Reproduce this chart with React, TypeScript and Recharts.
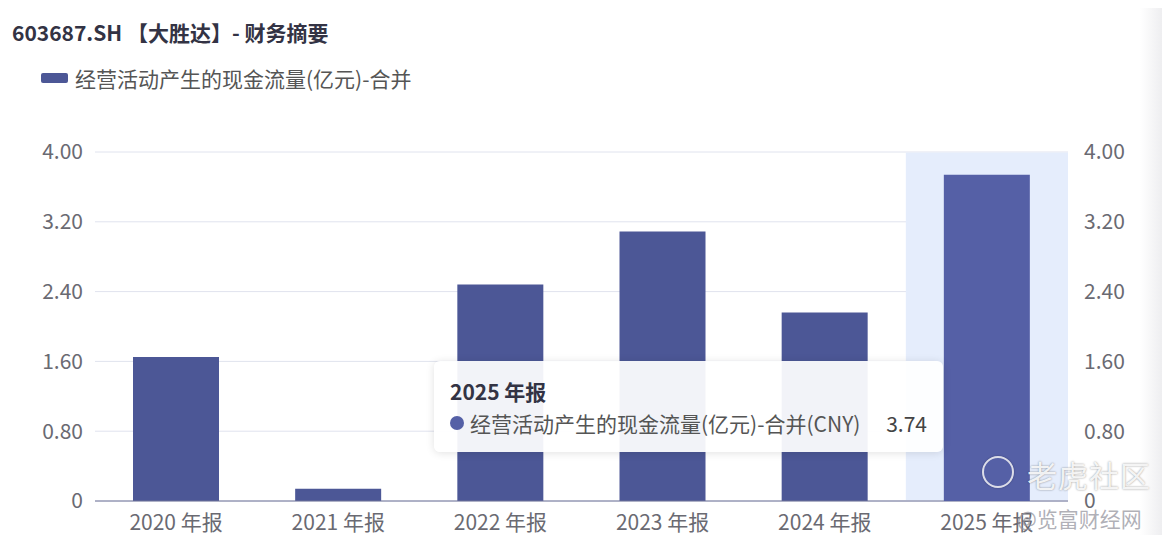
import { Bar, BarChart, CartesianGrid, Line, Tooltip, XAxis, YAxis } from "recharts";

const periods = ["2020 年报", "2021 年报", "2022 年报", "2023 年报", "2024 年报", "2025 年报"];
const cashFlow = [1.65, 0.14, 2.48, 3.09, 2.16, 3.74];
const yTicks = [0, 0.8, 1.6, 2.4, 3.2, 4.0];

const SERIES_NAME = "经营活动产生的现金流量(亿元)-合并";
const BAR_COLOR = "#4c5796";
const ACTIVE_COLOR = "#5560a6";
const FONT = '"Noto Sans CJK SC", "Noto Sans", sans-serif';
const TICK = { fontSize: 21, fill: "#6a6a72", fontFamily: FONT } as const;

const data = periods.map((period, index) => ({ period, value: cashFlow[index] }));

const formatTick = (value: number) => (value === 0 ? "0" : value.toFixed(2));

function TooltipBox({ active, payload, label }: any) {
  const entry = payload?.find((item: any) => item.dataKey === "value");
  if (!active || !entry) {
    return null;
  }
  return (
    <div
      style={{
        width: 509,
        height: 91,
        boxSizing: "border-box",
        background: "rgba(255,255,255,0.93)",
        borderRadius: 6,
        boxShadow: "0 1px 8px rgba(0,0,0,0.12)",
        padding: "14px 16px 0 16px",
        fontFamily: FONT,
        color: "#333344"
      }}
    >
      <div style={{ fontSize: 21, fontWeight: 700, lineHeight: "32px" }}>{label}</div>
      <div style={{ display: "flex", alignItems: "center", fontSize: 21, lineHeight: "32px", color: "#555" }}>
        <span
          style={{
            width: 14,
            height: 14,
            borderRadius: 7,
            background: ACTIVE_COLOR,
            display: "inline-block",
            marginRight: 6
          }}
        />
        <span>{SERIES_NAME}(CNY)</span>
        <span style={{ marginLeft: "auto", color: "#444" }}>{(entry.value as number).toFixed(2)}</span>
      </div>
    </div>
  );
}

export default function App() {
  return (
    <div style={{ position: "relative", width: 1170, height: 543, margin: -8, background: "#fff", overflow: "hidden", fontFamily: FONT }}>
      <div style={{ position: "absolute", left: 12, top: 17, fontSize: 21, fontWeight: 700, color: "#333344" }}>
        603687.SH 【大胜达】- 财务摘要
      </div>
      <div style={{ position: "absolute", left: 41, top: 63, display: "flex", alignItems: "center", fontSize: 21, color: "#555" }}>
        <span style={{ width: 27, height: 10, background: BAR_COLOR, borderRadius: 2, display: "inline-block", marginRight: 7 }} />
        {SERIES_NAME}
      </div>
      <BarChart width={1170} height={543} data={data} margin={{ top: 152, right: 0, bottom: 0, left: 0 }}>
        <CartesianGrid yAxisId="left" stroke="#e0e3ee" vertical={false} />
        <XAxis
          dataKey="period"
          height={42}
          tick={TICK}
          tickLine={false}
          axisLine={{ stroke: "#6e7396" }}
          tickMargin={8}
          interval={0}
        />
        <YAxis
          yAxisId="left"
          orientation="left"
          width={95}
          domain={[0, 4]}
          ticks={yTicks}
          tickFormatter={formatTick}
          tick={TICK}
          tickLine={false}
          axisLine={false}
          tickMargin={6}
        />
        <YAxis
          yAxisId="right"
          orientation="right"
          width={102}
          domain={[0, 4]}
          ticks={yTicks}
          tickFormatter={formatTick}
          tick={TICK}
          tickLine={false}
          axisLine={false}
          tickMargin={10}
        />
        <Tooltip
          active
          defaultIndex={5}
          cursor={{ fill: "#e5edfc" }}
          position={{ x: 434, y: 361 }}
          content={<TooltipBox />}
          isAnimationActive={false}
          wrapperStyle={{ outline: "none" }}
        />
        <Bar
          yAxisId="left"
          dataKey="value"
          name={SERIES_NAME}
          fill={BAR_COLOR}
          activeBar={{ fill: ACTIVE_COLOR }}
          barSize={86}
          isAnimationActive={false}
        />
        <Line
          yAxisId="right"
          dataKey="value"
          stroke="none"
          dot={false}
          activeDot={false}
          legendType="none"
          tooltipType="none"
          isAnimationActive={false}
        />
      </BarChart>
      <div style={{ position: "absolute", left: 982, top: 456, width: 28, height: 28, borderRadius: 16, border: "2px solid rgba(235,235,240,0.9)", boxShadow: "0 0 2px rgba(0,0,0,0.3)" }} />
      <div style={{ position: "absolute", left: 1027, top: 452, fontSize: 30, color: "rgba(255,255,255,0.9)", letterSpacing: 1, textShadow: "0 0 2px rgba(0,0,0,0.45)" }}>
        老虎社区
      </div>
      <div style={{ position: "absolute", left: 1017, top: 503, fontSize: 21, color: "rgba(150,150,160,0.75)" }}>
        @览富财经网
      </div>
      <div style={{ position: "absolute", right: 0, top: 0, width: 30, height: 543, background: "linear-gradient(to right, rgba(240,240,242,0), rgba(232,232,235,1))" }} />
    </div>
  );
}
